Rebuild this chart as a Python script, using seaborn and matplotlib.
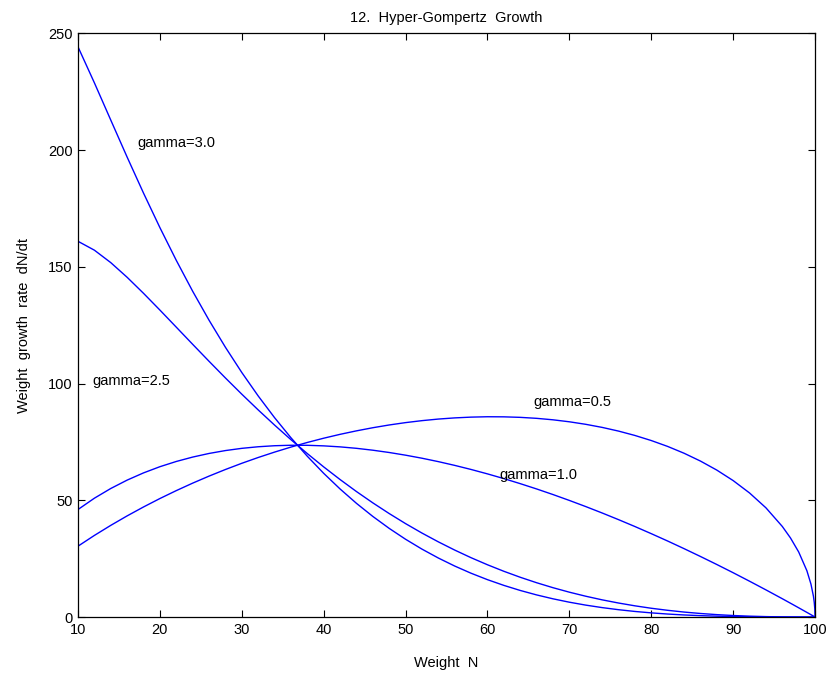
import matplotlib
matplotlib.use("Agg")
import matplotlib.pyplot as plt
import seaborn as sns
import pandas as pd

sns.set_style("ticks")
plt.rcParams['font.family'] = ['Liberation Sans', 'DejaVu Sans']
plt.rcParams['xtick.direction'] = 'in'
plt.rcParams['ytick.direction'] = 'in'
for key in ['text.color', 'axes.labelcolor', 'xtick.color', 'ytick.color', 'axes.edgecolor']:
    plt.rcParams[key] = 'black'

# Weight N sample positions
weight = [10, 12, 14, 16, 18, 20, 22, 24, 26, 28, 30, 32, 34, 36, 38, 40, 42, 44,
          46, 48, 50, 52, 54, 56, 58, 60, 62, 64, 66, 68, 70, 72, 74, 76, 78, 80,
          82, 84, 86, 88, 90, 92, 94, 96, 97, 98, 99, 99.5, 99.8, 99.9, 99.97, 100]

rate_g05 = [30.35, 34.95, 39.26, 43.32, 47.14, 50.75, 54.14, 57.34, 60.35, 63.18,
            65.84, 68.32, 70.63, 72.78, 74.76, 76.58, 78.24, 79.73, 81.07, 82.25,
            83.26, 84.10, 84.78, 85.28, 85.61, 85.77, 85.73, 85.51, 85.09, 84.46,
            83.61, 82.53, 81.21, 79.63, 77.76, 75.58, 73.06, 70.15, 66.80, 62.93,
            58.43, 53.13, 46.77, 38.79, 33.86, 27.86, 19.85, 14.09, 8.93, 6.32,
            3.46, 0.0]
rate_g10 = [46.05, 50.89, 55.05, 58.64, 61.73, 64.38, 66.62, 68.50, 70.05, 71.29,
            72.24, 72.92, 73.36, 73.56, 73.54, 73.30, 72.87, 72.25, 71.44, 70.46,
            69.31, 68.01, 66.55, 64.94, 63.19, 61.30, 59.28, 57.12, 54.85, 52.45,
            49.93, 47.30, 44.56, 41.71, 38.76, 35.70, 32.55, 29.29, 25.94, 22.50,
            18.97, 15.34, 11.63, 7.84, 5.91, 3.96, 1.99, 1.00, 0.40, 0.20,
            0.06, 0.0]
rate_g25 = [160.90, 157.10, 151.77, 145.48, 138.62, 131.45, 124.13, 116.79, 109.52, 102.38,
            95.43, 88.70, 82.20, 75.96, 69.99, 64.29, 58.88, 53.74, 48.89, 44.31,
            40.00, 35.96, 32.19, 28.67, 25.40, 22.38, 19.59, 17.03, 14.69, 12.56,
            10.64, 8.91, 7.36, 6.00, 4.80, 3.76, 2.88, 2.13, 1.52, 1.03,
            0.65, 0.37, 0.18, 0.06, 0.03, 0.01, 0.0, 0.0, 0.0, 0.0,
            0.0, 0.0]
rate_g30 = [244.16, 228.76, 212.81, 196.94, 181.53, 166.76, 152.74, 139.51, 127.11, 115.52,
            104.71, 94.68, 85.38, 76.78, 68.85, 61.54, 54.84, 48.69, 43.08, 37.96,
            33.30, 29.08, 25.27, 21.83, 18.75, 16.00, 13.55, 11.38, 9.47, 7.80,
            6.35, 5.10, 4.04, 3.14, 2.39, 1.78, 1.28, 0.89, 0.59, 0.37,
            0.21, 0.11, 0.04, 0.01, 0.0, 0.0, 0.0, 0.0, 0.0, 0.0,
            0.0, 0.0]

series = {"gamma=0.5": rate_g05, "gamma=1.0": rate_g10,
          "gamma=2.5": rate_g25, "gamma=3.0": rate_g30}

labels = ["gamma=3.0", "gamma=2.5", "gamma=0.5", "gamma=1.0"]
label_x = [17.2, 11.7, 65.6, 61.5]
label_y = [203, 101, 92, 61]

fig = plt.figure(figsize=(8.3, 6.8), dpi=100)
ax = fig.add_axes([0.094, 0.0926, 0.888, 0.8585])

for name, vals in series.items():
    df = pd.DataFrame({"N": weight, "rate": vals})
    sns.lineplot(data=df, x="N", y="rate", ax=ax, color="#0000ff", linewidth=1.0,
                 sort=False, estimator=None)

for t, x, y in zip(labels, label_x, label_y):
    ax.text(x, y, t, fontsize=10.5, ha="left", va="center", color="black")

ax.set_xlim(10, 100)
ax.set_ylim(0, 250)
ax.set_xticks(range(10, 101, 10))
ax.set_yticks(range(0, 251, 50))
ax.tick_params(top=True, right=True, labelsize=10.5, length=5, width=0.8, pad=4,
               colors="black")
for s in ax.spines.values():
    s.set_visible(True)
    s.set_linewidth(0.9)
    s.set_color("black")

ax.set_xlabel("Weight  N", fontsize=10.5, labelpad=14)
ax.set_ylabel("Weight  growth  rate  dN/dt", fontsize=10.5, labelpad=12)
ax.set_title("12.  Hyper-Gompertz  Growth", fontsize=10.5, pad=8)

fig.savefig("out.png", dpi=100)
